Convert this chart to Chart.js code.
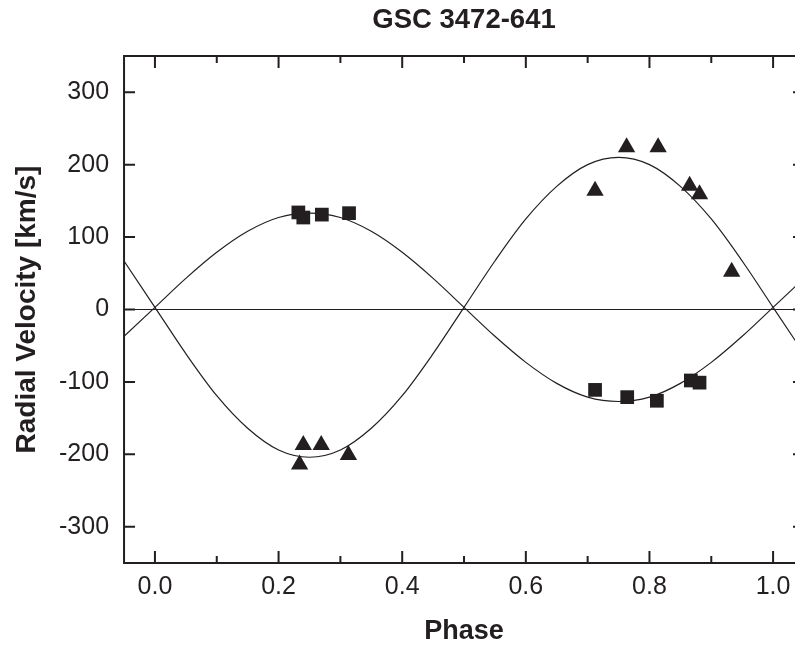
<!DOCTYPE html>
<html>
<head>
<meta charset="utf-8">
<title>GSC 3472-641</title>
<script src="https://cdn.jsdelivr.net/npm/chart.js@4.4.0/dist/chart.umd.min.js"></script>
<style>
    html, body { margin: 0; padding: 0; background: #fff; overflow: hidden; }
    .chart-box { width: 814px; height: 649px; }
</style>
</head>
<body>
<div class="chart-box"><canvas id="myChart"></canvas></div>
<script>
// Observed radial velocities - primary component (squares)
const primaryPhase = [0.232, 0.240, 0.270, 0.314, 0.712, 0.764, 0.812, 0.867, 0.881]
const primaryRV = [134, 127, 131, 133, -111, -121, -126, -98, -101]

// Observed radial velocities - secondary component (triangles)
const secondaryPhase = [0.234, 0.240, 0.269, 0.313, 0.712, 0.763, 0.814, 0.865, 0.881, 0.933]
const secondaryRV = [-214, -187, -187, -201, 164, 224, 224, 171, 159, 52]

// Fitted curves
const curvePhase = [-0.05, 0, 0.05, 0.1, 0.15, 0.2, 0.25, 0.3, 0.35, 0.4, 0.45, 0.5,
    0.55, 0.6, 0.65, 0.7, 0.75, 0.8, 0.85, 0.9, 0.95, 1.0, 1.05]
const primaryCurve = [-37, 3, 43, 79, 108, 127, 133, 127, 108, 79, 43, 3,
    -37, -73, -102, -121, -127, -121, -102, -73, -37, 3, 43]
const secondaryCurve = [67, 3, -61, -119, -164, -194, -204, -194, -164, -119, -61, 3,
    67, 125, 170, 200, 210, 200, 170, 125, 67, 3, -61]

// Zero velocity line
const zeroLineX = [-0.05, 1.05]
const zeroLineY = [0, 0]

// Tick values
const xTicks = [0, 0.1, 0.2, 0.3, 0.4, 0.5, 0.6, 0.7, 0.8, 0.9, 1.0]
const yTicks = [-300, -200, -100, 0, 100, 200, 300]

const ink = '#231f20'
const fontFamily = "'Liberation Sans', Arial, Helvetica, sans-serif"

function toPoints(xs, ys) {
    return xs.map(function (x, i) { return { x: x, y: ys[i] } })
}

function isMajorX(value) {
    return Math.round(value * 10) % 2 === 0
}

// Box round the plot with inward ticks on all four sides
const framePlugin = {
    id: 'frame',
    afterDatasetsDraw(chart) {
        const ctx = chart.ctx
        const area = chart.chartArea
        const xScale = chart.scales.x
        const yScale = chart.scales.y

        ctx.save()
        ctx.strokeStyle = ink
        ctx.lineWidth = 2
        ctx.beginPath()
        xScale.ticks.forEach(function (tick) {
            const px = xScale.getPixelForValue(tick.value)
            const len = isMajorX(tick.value) ? 12 : 7
            ctx.moveTo(px, area.bottom)
            ctx.lineTo(px, area.bottom - len)
            ctx.moveTo(px, area.top)
            ctx.lineTo(px, area.top + len)
        })
        yScale.ticks.forEach(function (tick) {
            const py = yScale.getPixelForValue(tick.value)
            ctx.moveTo(area.left, py)
            ctx.lineTo(area.left + 11, py)
            ctx.moveTo(area.right, py)
            ctx.lineTo(area.right - 11, py)
        })
        ctx.stroke()
        ctx.strokeRect(area.left, area.top, area.right - area.left, area.bottom - area.top)
        ctx.restore()
    }
}

const myChart = document.getElementById('myChart')

const chart = new Chart(myChart, {
    type: 'scatter',
    data: {
        datasets: [
            {
                label: 'Primary',
                data: toPoints(primaryPhase, primaryRV),
                pointStyle: 'rect',
                pointRadius: 9.7,
                backgroundColor: ink,
                borderWidth: 0
            },
            {
                label: 'Secondary',
                data: toPoints(secondaryPhase, secondaryRV),
                pointStyle: 'triangle',
                pointRadius: 10,
                backgroundColor: ink,
                borderWidth: 0
            },
            {
                label: 'Primary fit',
                data: toPoints(curvePhase, primaryCurve),
                showLine: true,
                cubicInterpolationMode: 'monotone',
                borderColor: ink,
                borderWidth: 1.2,
                pointRadius: 0
            },
            {
                label: 'Secondary fit',
                data: toPoints(curvePhase, secondaryCurve),
                showLine: true,
                cubicInterpolationMode: 'monotone',
                borderColor: ink,
                borderWidth: 1.2,
                pointRadius: 0
            },
            {
                label: 'Zero',
                data: toPoints(zeroLineX, zeroLineY),
                showLine: true,
                borderColor: ink,
                borderWidth: 1,
                pointRadius: 0
            }
        ]
    },
    options: {
        responsive: true,
        maintainAspectRatio: false,
        animation: false,
        layout: { padding: { top: 0, right: 6, bottom: 0, left: 0 } },
        plugins: {
            legend: { display: false },
            tooltip: { enabled: false },
            title: {
                display: true,
                text: 'GSC 3472-641',
                fullSize: false,
                color: ink,
                font: { family: fontFamily, size: 27.5, weight: 'bold' },
                padding: { top: 4, bottom: 19 }
            }
        },
        scales: {
            x: {
                type: 'linear',
                min: -0.05,
                max: 1.05,
                afterBuildTicks: function (scale) {
                    scale.ticks = xTicks.map(function (v) { return { value: v } })
                },
                grid: { display: false, drawTicks: false },
                border: { display: false },
                ticks: {
                    autoSkip: false,
                    maxRotation: 0,
                    padding: 9,
                    color: ink,
                    font: { family: fontFamily, size: 25 },
                    callback: function (value) { return isMajorX(value) ? value.toFixed(1) : '' }
                },
                title: {
                    display: true,
                    text: 'Phase',
                    color: ink,
                    font: { family: fontFamily, size: 27, weight: 'bold' },
                    padding: { top: 4.6, bottom: 1 }
                }
            },
            y: {
                type: 'linear',
                min: -350,
                max: 350,
                afterBuildTicks: function (scale) {
                    scale.ticks = yTicks.map(function (v) { return { value: v } })
                },
                grid: { display: false, drawTicks: false },
                border: { display: false },
                ticks: {
                    padding: 15,
                    color: ink,
                    font: { family: fontFamily, size: 25 }
                },
                title: {
                    display: true,
                    text: 'Radial Velocity [km/s]',
                    color: ink,
                    font: { family: fontFamily, size: 28, weight: 'bold' },
                    padding: { top: 10, bottom: 0.4 }
                }
            }
        }
    },
    plugins: [framePlugin]
})
</script>
</body>
</html>
